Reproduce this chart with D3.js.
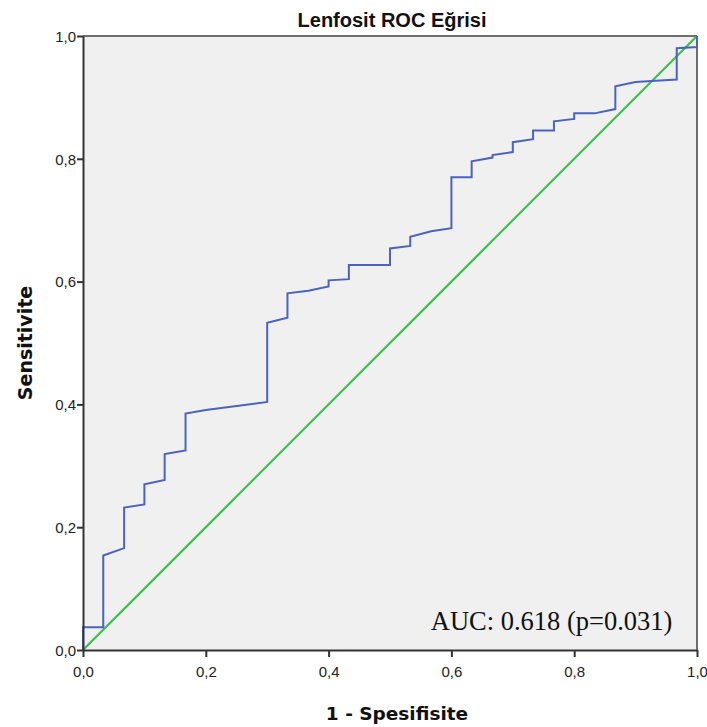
<!DOCTYPE html>
<html>
<head>
<meta charset="utf-8">
<script src="https://cdn.jsdelivr.net/npm/d3@7"></script>
<style>
  body { margin: 0; background: #fff; }
  .tick text { font-family: "Liberation Sans", Arial, sans-serif; font-size: 15px; fill: #222; }
</style>
</head>
<body>
<div id="roc"></div>
<script>
// ROC curve points: false positive rate (1 - specificity) and sensitivity
var fpr = [0, 0, 0.033, 0.033, 0.067, 0.067, 0.100, 0.100, 0.133, 0.133, 0.167, 0.167,
  0.200, 0.300, 0.300, 0.333, 0.333, 0.367, 0.400, 0.400, 0.433, 0.433, 0.500, 0.500,
  0.533, 0.533, 0.567, 0.600, 0.600, 0.633, 0.633, 0.667, 0.667, 0.700, 0.700, 0.733,
  0.733, 0.767, 0.767, 0.800, 0.800, 0.833, 0.867, 0.867, 0.900, 0.933, 0.967, 0.967,
  1.000, 1.000];
var tpr = [0, 0.037, 0.037, 0.154, 0.166, 0.232, 0.237, 0.270, 0.277, 0.319, 0.325, 0.385,
  0.391, 0.404, 0.533, 0.541, 0.581, 0.585, 0.592, 0.602, 0.604, 0.627, 0.627, 0.654,
  0.658, 0.673, 0.682, 0.687, 0.770, 0.770, 0.796, 0.802, 0.806, 0.811, 0.827, 0.832,
  0.846, 0.846, 0.861, 0.865, 0.874, 0.874, 0.881, 0.918, 0.925, 0.927, 0.929, 0.980,
  0.982, 1.000];
var refLine = [0, 1];
var tickValues = [0, 0.2, 0.4, 0.6, 0.8, 1.0];
var auc = 0.618, pValue = 0.031;

var W = 707, H = 727;
var margin = { top: 36, right: 10, bottom: 77, left: 83 },
    width = 614,
    height = 614;

var svg = d3.select("#roc").append("svg")
    .attr("width", W)
    .attr("height", H);

var g = svg.append("g")
    .attr("transform", "translate(" + margin.left + "," + margin.top + ")");

var x = d3.scaleLinear().domain([0, 1]).range([0, width]);
var y = d3.scaleLinear().domain([0, 1]).range([height, 0]);

var fmt = function (d) { return d3.format(".1f")(d).replace(".", ","); };

// plot background
g.append("rect")
    .attr("width", width)
    .attr("height", height)
    .attr("fill", "#f0f0f0");

// frame top and right
g.append("line").attr("x1", 0).attr("x2", width).attr("y1", 0).attr("y2", 0)
    .attr("stroke", "#6e6e6e").attr("stroke-width", 2);
g.append("line").attr("x1", width).attr("x2", width).attr("y1", 0).attr("y2", height)
    .attr("stroke", "#6e6e6e").attr("stroke-width", 2);

// reference diagonal
g.append("line")
    .attr("x1", x(refLine[0])).attr("y1", y(refLine[0]))
    .attr("x2", x(refLine[1])).attr("y2", y(refLine[1]))
    .attr("stroke", "#3dbd4a")
    .attr("stroke-width", 2.2);

// ROC curve
var pts = fpr.map(function (d, i) { return { x: d, y: tpr[i] }; });
var line = d3.line()
    .x(function (d) { return x(d.x); })
    .y(function (d) { return y(d.y); });

g.append("path")
    .datum(pts)
    .attr("d", line)
    .attr("fill", "none")
    .attr("stroke", "#4a62c0")
    .attr("stroke-width", 2);

// axes
var xAxis = g.append("g")
    .attr("transform", "translate(0," + height + ")")
    .call(d3.axisBottom(x).tickValues(tickValues).tickFormat(fmt).tickSize(7).tickSizeOuter(0));
var yAxis = g.append("g")
    .call(d3.axisLeft(y).tickValues(tickValues).tickFormat(fmt).tickSize(6).tickSizeOuter(0));

[xAxis, yAxis].forEach(function (a) {
    a.select(".domain").attr("stroke", "#333").attr("stroke-width", 2);
    a.selectAll(".tick line").attr("stroke", "#333").attr("stroke-width", 2);
});
xAxis.selectAll(".tick text").attr("dy", "1.1em");
yAxis.selectAll(".tick text").attr("x", -7).attr("dy", "0.35em");

// AUC annotation
g.append("text")
    .attr("x", x(0.960))
    .attr("y", y(0.033))
    .attr("text-anchor", "end")
    .style("font", "26.5px 'Liberation Serif', 'Times New Roman', serif")
    .attr("fill", "#111")
    .text("AUC: " + auc.toFixed(3) + " (p=" + pValue.toFixed(3) + ")");

// titles
svg.append("text")
    .attr("x", margin.left + width / 2 + 2)
    .attr("y", 27)
    .attr("text-anchor", "middle")
    .style("font", "bold 20px 'Liberation Sans', Arial, sans-serif")
    .attr("fill", "#111")
    .text("Lenfosit ROC Eğrisi");

svg.append("text")
    .attr("x", margin.left + width / 2 + 7)
    .attr("y", 720)
    .attr("text-anchor", "middle")
    .style("font", "bold 18.5px 'DejaVu Sans', sans-serif")
    .attr("fill", "#111")
    .text("1 - Spesifisite");

svg.append("text")
    .attr("transform", "translate(32," + (margin.top + height / 2) + ") rotate(-90)")
    .attr("text-anchor", "middle")
    .style("font", "bold 19px 'DejaVu Sans', sans-serif")
    .attr("fill", "#111")
    .text("Sensitivite");
</script>
</body>
</html>
